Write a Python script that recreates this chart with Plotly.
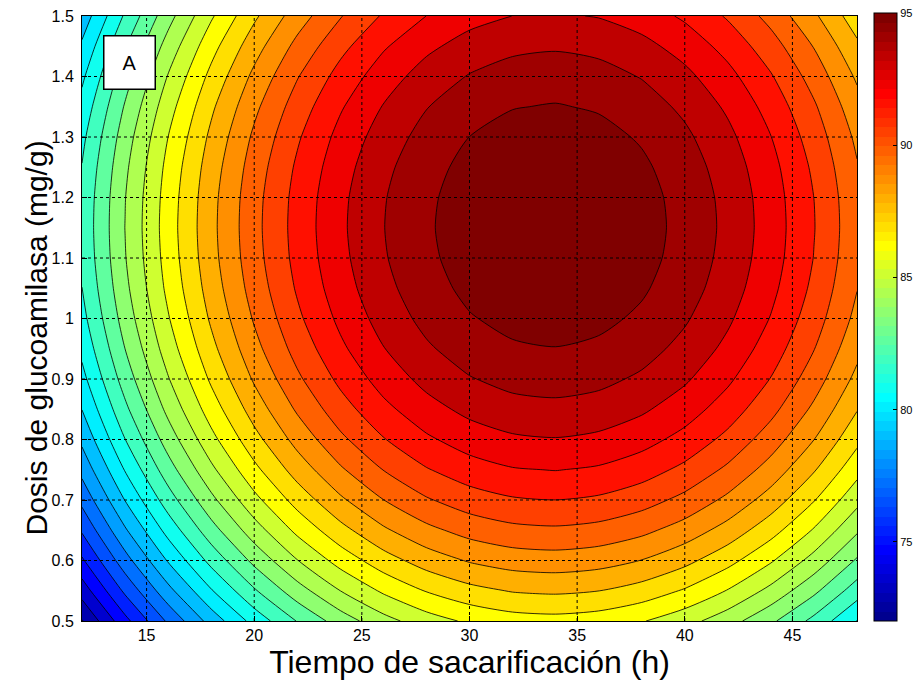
import math
import plotly.graph_objects as go

# Tiempo de sacarificación (h) -- columnas de la malla
tiempo = [12, 14, 16, 18, 20, 22, 24, 26, 28, 30, 32, 34, 36, 38, 40, 42, 44, 46, 48]

# Dosis de glucoamilasa (mg/g) -- filas de la malla
dosis = [0.50, 0.55, 0.60, 0.65, 0.70, 0.75, 0.80, 0.85, 0.90, 0.95, 1.00,
         1.05, 1.10, 1.15, 1.20, 1.25, 1.30, 1.35, 1.40, 1.45, 1.50]

# Rendimiento estimado (%) en cada punto de la malla (fila = dosis, columna = tiempo)
rendimiento = [
    [72.03, 74.43, 76.59, 78.53, 80.24, 81.71, 82.95, 83.97, 84.75, 85.30, 85.63, 85.72, 85.58, 85.21, 84.61, 83.77, 82.71, 81.42, 79.90],
    [73.35, 75.75, 77.91, 79.85, 81.56, 83.03, 84.28, 85.29, 86.07, 86.62, 86.95, 87.04, 86.90, 86.53, 85.93, 85.10, 84.03, 82.74, 81.22],
    [74.57, 76.96, 79.13, 81.07, 82.77, 84.25, 85.49, 86.51, 87.29, 87.84, 88.16, 88.25, 88.11, 87.74, 87.14, 86.31, 85.25, 83.96, 82.43],
    [75.68, 78.07, 80.24, 82.18, 83.88, 85.36, 86.60, 87.62, 88.40, 88.95, 89.27, 89.36, 89.22, 88.85, 88.25, 87.42, 86.36, 85.07, 83.54],
    [76.68, 79.08, 81.25, 83.18, 84.89, 86.36, 87.61, 88.62, 89.41, 89.96, 90.28, 90.37, 90.23, 89.86, 89.26, 88.43, 87.37, 86.07, 84.55],
    [77.58, 79.98, 82.15, 84.08, 85.79, 87.27, 88.51, 89.52, 90.31, 90.86, 91.18, 91.27, 91.13, 90.76, 90.16, 89.33, 88.27, 86.97, 85.45],
    [78.38, 80.78, 82.94, 84.88, 86.59, 88.06, 89.31, 90.32, 91.10, 91.65, 91.98, 92.07, 91.93, 91.56, 90.96, 90.13, 89.06, 87.77, 86.25],
    [79.07, 81.47, 83.64, 85.57, 87.28, 88.75, 90.00, 91.01, 91.79, 92.35, 92.67, 92.76, 92.62, 92.25, 91.65, 90.82, 89.76, 88.46, 86.94],
    [79.66, 82.06, 84.22, 86.16, 87.87, 89.34, 90.58, 91.60, 92.38, 92.93, 93.26, 93.35, 93.21, 92.84, 92.24, 91.40, 90.34, 89.05, 87.53],
    [80.14, 82.54, 84.71, 86.64, 88.35, 89.82, 91.07, 92.08, 92.86, 93.42, 93.74, 93.83, 93.69, 93.32, 92.72, 91.89, 90.82, 89.53, 88.01],
    [80.52, 82.92, 85.08, 87.02, 88.72, 90.20, 91.44, 92.46, 93.24, 93.79, 94.11, 94.21, 94.07, 93.70, 93.09, 92.26, 91.20, 89.91, 88.39],
    [80.79, 83.19, 85.36, 87.29, 89.00, 90.47, 91.72, 92.73, 93.51, 94.07, 94.39, 94.48, 94.34, 93.97, 93.37, 92.54, 91.47, 90.18, 88.66],
    [80.96, 83.36, 85.52, 87.46, 89.17, 90.64, 91.88, 92.90, 93.68, 94.23, 94.56, 94.65, 94.51, 94.14, 93.54, 92.70, 91.64, 90.35, 88.83],
    [81.02, 83.42, 85.59, 87.52, 89.23, 90.70, 91.95, 92.96, 93.74, 94.30, 94.62, 94.71, 94.57, 94.20, 93.60, 92.77, 91.70, 90.41, 88.89],
    [80.98, 83.38, 85.54, 87.48, 89.19, 90.66, 91.91, 92.92, 93.70, 94.25, 94.58, 94.67, 94.53, 94.16, 93.56, 92.73, 91.66, 90.37, 88.85],
    [80.83, 83.23, 85.40, 87.33, 89.04, 90.51, 91.76, 92.77, 93.56, 94.11, 94.43, 94.52, 94.38, 94.01, 93.41, 92.58, 91.52, 90.22, 88.70],
    [80.58, 82.98, 85.15, 87.08, 88.79, 90.26, 91.51, 92.52, 93.30, 93.86, 94.18, 94.27, 94.13, 93.76, 93.16, 92.33, 91.26, 89.97, 88.45],
    [80.22, 82.62, 84.79, 86.73, 88.43, 89.91, 91.15, 92.16, 92.95, 93.50, 93.82, 93.91, 93.77, 93.40, 92.80, 91.97, 90.91, 89.62, 88.09],
    [79.76, 82.16, 84.33, 86.26, 87.97, 89.45, 90.69, 91.70, 92.49, 93.04, 93.36, 93.45, 93.31, 92.94, 92.34, 91.51, 90.45, 89.15, 87.63],
    [79.20, 81.60, 83.76, 85.70, 87.40, 88.88, 90.12, 91.14, 91.92, 92.47, 92.79, 92.89, 92.75, 92.38, 91.77, 90.94, 89.88, 88.59, 87.07],
    [78.53, 80.92, 83.09, 85.03, 86.73, 88.21, 89.45, 90.47, 91.25, 91.80, 92.12, 92.21, 92.07, 91.70, 91.10, 90.27, 89.21, 87.92, 86.39],
]

# Niveles de las isolíneas
nivel_inicio = 72.09
nivel_paso = 0.8706
n_niveles = 26

# Ejes y barra de color
x_ticks = [15, 20, 25, 30, 35, 40, 45]
y_ticks = [0.5, 0.6, 0.7, 0.8, 0.9, 1.0, 1.1, 1.2, 1.3, 1.4, 1.5]
y_tick_text = ["0.5", "0.6", "0.7", "0.8", "0.9", "1", "1.1", "1.2", "1.3", "1.4", "1.5"]
cbar_ticks = [75, 80, 85, 90, 95]
cbar_rango = [72.0, 95.0]

titulo_x = "Tiempo de sacarificación (h)"
titulo_y = "Dosis de glucoamilasa (mg/g)"
etiqueta_panel = "A"

FONT = "Liberation Sans, Arial, sans-serif"


def jet(n=64):
    """Mapa de color 'jet' de n pasos."""
    m = math.ceil(n / 4)
    u = [i / m for i in range(1, m + 1)] + [1.0] * (m - 1) + [i / m for i in range(m, 0, -1)]
    g0 = math.ceil(n / 8) - (1 if n % 4 == 1 else 0)
    rows_g = [g0 + k for k in range(1, len(u) + 1)]
    rows_r = [g + n // 4 for g in rows_g]
    rows_b = [g - n // 4 for g in rows_g]
    R, G, B = [0.0] * n, [0.0] * n, [0.0] * n
    for k, val in enumerate(u):
        if 1 <= rows_r[k] <= n:
            R[rows_r[k] - 1] = val
        if 1 <= rows_g[k] <= n:
            G[rows_g[k] - 1] = val
        if 1 <= rows_b[k] <= n:
            B[rows_b[k] - 1] = val
    return [f"rgb({round(255 * R[i])},{round(255 * G[i])},{round(255 * B[i])})" for i in range(n)]


jet64 = jet(64)

# Una banda de color por cada franja entre isolíneas (incluye la zona bajo el primer nivel)
n_bandas = n_niveles + 1
colores_banda = [jet64[min(63, int(j / (n_bandas - 1) * 64))] for j in range(n_bandas)]
escala_relleno = []
for j, c in enumerate(colores_banda):
    lo = max(0.0, (j - 0.5) / (n_bandas - 1))
    hi = min(1.0, (j + 0.5) / (n_bandas - 1))
    escala_relleno += [[lo, c], [hi, c]]

# Escala escalonada de 64 colores para la barra
escala_barra = []
for i, c in enumerate(jet64):
    escala_barra += [[i / 64, c], [(i + 1) / 64, c]]

fig = go.Figure()

fig.add_trace(go.Contour(
    x=tiempo, y=dosis, z=rendimiento,
    autocontour=False,
    contours=dict(start=nivel_inicio,
                  end=nivel_inicio + (n_niveles - 1) * nivel_paso,
                  size=nivel_paso,
                  coloring="fill", showlines=True),
    colorscale=escala_relleno,
    showscale=False,
    line=dict(color="black", width=0.8, smoothing=0.7),
    hoverinfo="skip",
))

# Traza auxiliar que sólo aporta la barra de color
fig.add_trace(go.Scatter(
    x=[tiempo[0], tiempo[0]], y=[dosis[0], dosis[0]],
    mode="markers",
    marker=dict(size=1, opacity=0, color=cbar_rango,
                colorscale=escala_barra, cmin=cbar_rango[0], cmax=cbar_rango[1],
                showscale=True,
                colorbar=dict(
                    x=1.0219, xanchor="left", xpad=0,
                    y=0.502, yanchor="middle", ypad=0,
                    lenmode="pixels", len=608,
                    thicknessmode="pixels", thickness=23,
                    outlinecolor="black", outlinewidth=1,
                    tickvals=cbar_ticks, ticks="inside", ticklen=4,
                    tickcolor="black",
                    tickfont=dict(family=FONT, size=11, color="black"),
                )),
    hoverinfo="skip", showlegend=False,
))

# Rejilla discontinua por encima del relleno
for t in x_ticks:
    fig.add_shape(type="line", xref="x", yref="paper", x0=t, x1=t, y0=0, y1=1,
                  line=dict(color="black", width=1, dash="3px,3px"), layer="above")
for t in y_ticks[1:-1]:
    fig.add_shape(type="line", xref="paper", yref="y", x0=0, x1=1, y0=t, y1=t,
                  line=dict(color="black", width=1, dash="3px,3px"), layer="above")

# Etiqueta del panel
fig.add_annotation(
    text=etiqueta_panel, xref="paper", yref="paper", x=0.0619, y=0.9231,
    xanchor="center", yanchor="middle",
    showarrow=False, font=dict(family=FONT, size=20, color="black"),
    bgcolor="white", bordercolor="black", borderwidth=1.5, borderpad=1,
    width=48, height=50,
)

# Título del eje vertical
fig.add_annotation(
    text=titulo_y, xref="paper", yref="paper", x=-0.0585, y=0.468,
    xanchor="center", yanchor="middle", textangle=-90,
    showarrow=False, font=dict(family=FONT, size=30, color="black"),
)

eje = dict(showline=True, mirror=True, linecolor="black", linewidth=1,
           ticks="inside", ticklen=5, tickcolor="black",
           showgrid=False, zeroline=False, layer="above traces",
           tickfont=dict(family=FONT, size=16, color="black"))

fig.update_xaxes(range=[12, 48], tickvals=x_ticks,
                 title=dict(text=titulo_x,
                            font=dict(family=FONT, size=32, color="black"), standoff=3),
                 **eje)
fig.update_yaxes(range=[0.5, 1.5], tickvals=y_ticks, ticktext=y_tick_text,
                 ticklabelstandoff=4, **eje)

fig.update_layout(
    width=917, height=684,
    margin=dict(l=82, r=60, t=16, b=63, autoexpand=False),
    paper_bgcolor="white", plot_bgcolor="white",
    showlegend=False,
)

fig.write_html("out.html")
